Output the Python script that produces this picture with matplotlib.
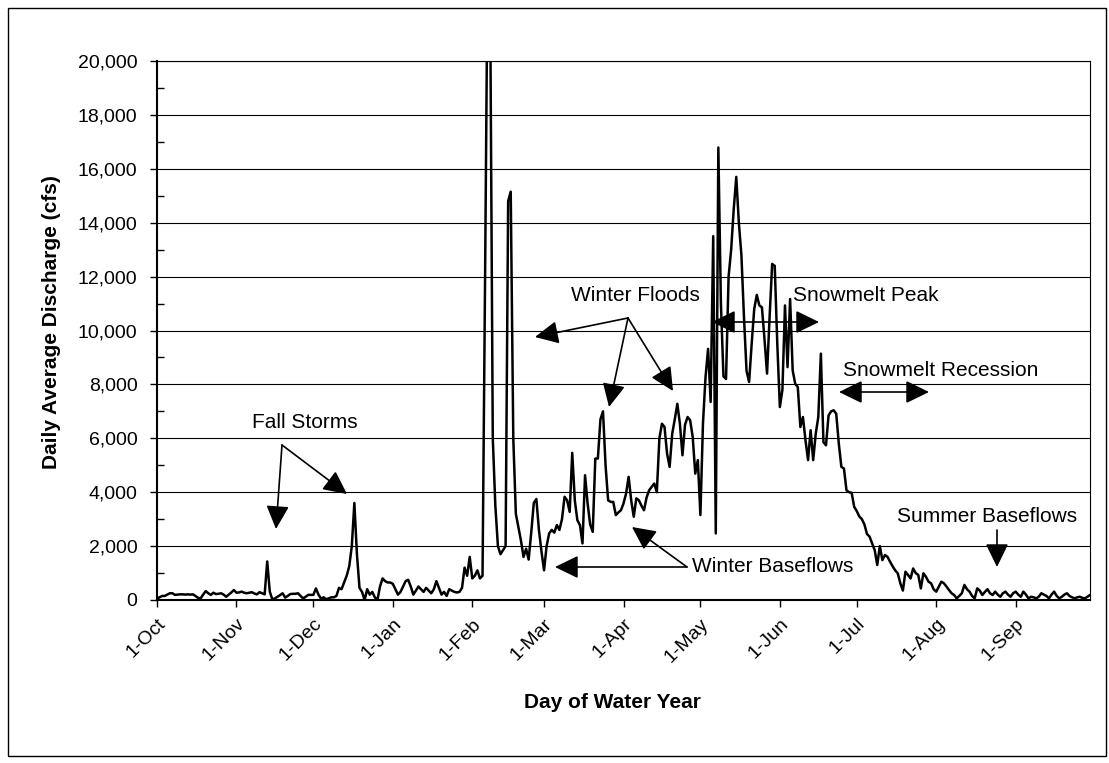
import matplotlib
matplotlib.use('Agg')
import matplotlib.pyplot as plt
import numpy as np
from matplotlib.ticker import MultipleLocator, FuncFormatter
from matplotlib.patches import Rectangle

# Daily average discharge (cfs), by month of the water year
oct_q = [50, 100, 150, 150, 200, 250, 250, 190, 200, 210, 210, 200, 210, 200, 210, 150,
         80, 60, 200, 330, 250, 190, 270, 220, 230, 250, 200, 120, 200, 280, 370]
nov_q = [270, 280, 310, 270, 250, 270, 290, 240, 210, 290, 250, 210, 1430, 310, 25,
         60, 120, 180, 250, 90, 150, 220, 230, 230, 250, 150, 60, 120, 190, 190]
dec_q = [190, 430, 200, 50, 100, 30, 60, 100, 100, 150, 450, 400, 650, 900, 1250, 2000,
         3600, 1700, 450, 300, 0, 400, 200, 300, 100, 0, 500, 800, 700, 650, 650]
jan_q = [600, 400, 200, 300, 500, 700, 750, 500, 200, 350, 500, 400, 300, 450, 350, 250,
         400, 700, 450, 200, 300, 150, 400, 350, 300, 280, 300, 450, 1200, 900, 1600]
feb_q = [800, 900, 1100, 800, 900, 12000, 24000, 22000, 6000, 3500, 2000, 1700, 1850,
         2000, 14800, 15150, 6000, 3200, 2700, 2200, 1600, 1900, 1500, 2500, 3600, 3750,
         2600, 1800]
mar_q = [1100, 2000, 2470, 2600, 2500, 2780, 2600, 3000, 3830, 3700, 3270, 5460, 3700,
         2960, 2780, 2100, 4630, 3580, 2800, 2530, 5250, 5250, 6700, 7000, 5000, 3700,
         3640, 3640, 3150, 3250, 3330]
apr_q = [3580, 3950, 4570, 3700, 3090, 3770, 3700, 3500, 3330, 3800, 4070, 4200, 4320,
         4000, 6000, 6540, 6420, 5430, 4940, 6170, 6700, 7280, 6540, 5370, 6500, 6790,
         6670, 6050, 4690, 5190]
may_q = [3150, 6540, 8270, 9320, 7350, 13500, 2470, 16790, 11000, 8300, 8200, 12000,
         13000, 14500, 15700, 14000, 12800, 10500, 8500, 8090, 9500, 10800, 11320, 10930,
         10860, 9690, 8400, 10500, 12470, 12400, 9500]
jun_q = [7160, 7800, 10930, 8640, 11170, 8520, 8020, 7900, 6420, 6790, 5930, 5190, 6300,
         5190, 6170, 6790, 9140, 5860, 5740, 6850, 7000, 7040, 6910, 5800, 4940, 4880,
         4070, 4000, 3980, 3460]
jul_q = [3300, 3100, 3000, 2800, 2450, 2350, 2100, 1850, 1300, 2000, 1480, 1670, 1600,
         1420, 1250, 1100, 990, 620, 350, 1050, 930, 800, 1170, 1000, 930, 430, 990, 860,
         680, 620, 400]
aug_q = [310, 490, 680, 620, 500, 370, 250, 185, 60, 150, 250, 560, 400, 310, 150, 60,
         430, 350, 185, 300, 400, 250, 185, 310, 200, 120, 250, 310, 200, 120, 250]
sep_q = [310, 200, 120, 310, 200, 60, 120, 100, 60, 120, 250, 200, 150, 60, 200, 310,
         150, 60, 120, 200, 250, 150, 100, 60, 100, 120, 80, 60, 120, 185]

month_labels = ['1-Oct', '1-Nov', '1-Dec', '1-Jan', '1-Feb', '1-Mar', '1-Apr',
                '1-May', '1-Jun', '1-Jul', '1-Aug', '1-Sep']
month_days = [31, 30, 31, 31, 28, 31, 30, 31, 30, 31, 31, 30]

flow = oct_q + nov_q + dec_q + jan_q + feb_q + mar_q + apr_q + may_q + jun_q + jul_q + aug_q + sep_q
days = np.arange(len(flow))
month_starts = np.concatenate([[0], np.cumsum(month_days)[:-1]])

FONT = 'Liberation Sans'
plt.rcParams['font.family'] = [FONT, 'DejaVu Sans']

W, H = 1109, 763
fig = plt.figure(figsize=(W / 100, H / 100), dpi=100)
fig.patch.set_facecolor('white')

L, R, T, B = 157, 1090, 61, 600
ax = fig.add_axes([L / W, 1 - B / H, (R - L) / W, (B - T) / H])

ax.plot(days, flow, color='black', lw=1.8, zorder=3)

ax.set_xlim(0, len(flow) - 1)
ax.set_ylim(0, 20000)

ax.yaxis.set_major_locator(MultipleLocator(2000))
ax.yaxis.set_minor_locator(MultipleLocator(1000))
ax.yaxis.set_major_formatter(FuncFormatter(lambda v, p: f'{v:,.0f}'))
ax.yaxis.grid(True, which='major', color='black', lw=0.8)
ax.set_axisbelow(True)

ax.set_xticks(month_starts)
ax.set_xticklabels(month_labels, rotation=45, ha='right', va='top',
                   rotation_mode='anchor', fontsize=14)
ax.tick_params(axis='x', direction='out', length=5, width=1, pad=6)
ax.tick_params(axis='y', which='major', direction='out', length=5, width=1,
               labelsize=14, pad=9)
ax.tick_params(axis='y', which='minor', direction='in', length=5, width=1)

for side in ['left', 'bottom']:
    ax.spines[side].set_linewidth(1.5)
for side in ['top', 'right']:
    ax.spines[side].set_linewidth(0.8)

# axis titles
fig.text(52 / W, 1 - 322 / H, 'Daily Average Discharge (cfs)', rotation=90,
         ha='center', va='center', fontsize=15, fontweight='bold')
fig.text(612 / W, 1 - 702 / H, 'Day of Water Year', ha='center', va='center',
         fontsize=15, fontweight='bold')

# outer chart border
fig.patches.append(Rectangle((8 / W, 1 - 756 / H), (1106 - 8) / W, (756 - 8) / H,
                             transform=fig.transFigure, fill=False, ec='black', lw=1))


def px2d(x, y):
    return ((x - L) / ((R - L) / (len(flow) - 1)), (B - y) * 20000 / (B - T))


head = dict(arrowstyle='-|>,head_length=0.45,head_width=0.22', color='black', lw=1.2,
            mutation_scale=32, shrinkA=0, shrinkB=0)
dbl = dict(arrowstyle='<|-|>,head_length=0.45,head_width=0.22', color='black', lw=1.2,
           mutation_scale=32, shrinkA=0, shrinkB=0)

ann_fs = 15

# Fall Storms
ax.text(*px2d(305, 423), 'Fall Storms', ha='center', va='center', fontsize=ann_fs)
for tip in [(276, 529), (347, 494)]:
    ax.annotate('', xy=px2d(*tip), xytext=px2d(282, 445), arrowprops=head)

# Winter Floods
ax.text(*px2d(635, 296), 'Winter Floods', ha='center', va='center', fontsize=ann_fs)
for tip in [(535, 337), (609, 407), (673, 391)]:
    ax.annotate('', xy=px2d(*tip), xytext=px2d(628, 318), arrowprops=head)

# Snowmelt Peak
ax.text(*px2d(793, 296), 'Snowmelt Peak', ha='left', va='center', fontsize=ann_fs)
ax.annotate('', xy=px2d(712, 322), xytext=px2d(819, 322), arrowprops=dbl)

# Snowmelt Recession
ax.text(*px2d(843, 370), 'Snowmelt Recession', ha='left', va='center', fontsize=ann_fs)
ax.annotate('', xy=px2d(839, 392), xytext=px2d(929, 392), arrowprops=dbl)

# Winter Baseflows
ax.text(*px2d(692, 567), 'Winter Baseflows', ha='left', va='center', fontsize=ann_fs)
for tip in [(555, 567), (632, 527)]:
    ax.annotate('', xy=px2d(*tip), xytext=px2d(687, 567), arrowprops=head)

# Summer Baseflows
ax.text(*px2d(897, 517), 'Summer Baseflows', ha='left', va='center', fontsize=ann_fs)
ax.annotate('', xy=px2d(997, 567), xytext=px2d(997, 530), arrowprops=head)

fig.savefig('out.png', dpi=100, facecolor='white')
